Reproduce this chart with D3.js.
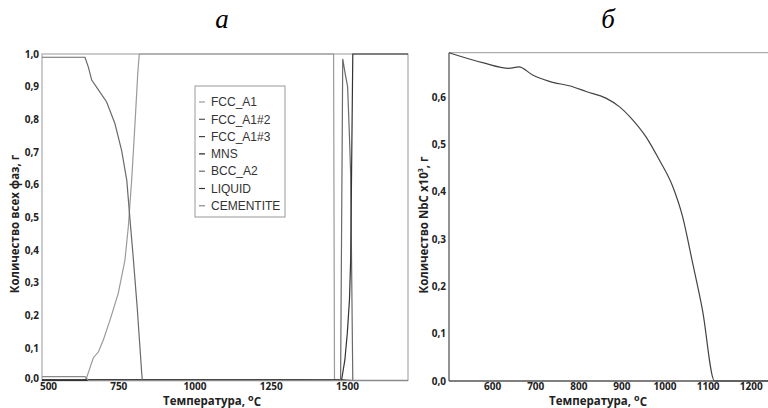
<!DOCTYPE html>
<html>
<head>
<meta charset="utf-8">
<script src="https://cdn.jsdelivr.net/npm/d3@7/dist/d3.min.js"></script>
<style>
  body { margin: 0; background: #fff; }
  svg { display: block; }
  .tick text { font-family: "Open Sans", sans-serif; font-weight: 700; font-size: 10px; fill: #222; }
  .title { font-family: "Open Sans", sans-serif; font-weight: 700; font-size: 11.5px; fill: #222; }
  .legend text { font-family: "Liberation Sans", Arial, sans-serif; font-size: 12px; fill: #333; }
</style>
</head>
<body>
<div class="mainbody"></div>
<script>
// ---------- данные: левый график (а), количество фаз ----------
var phaseNames = ["FCC_A1", "FCC_A1#2", "FCC_A1#3", "MNS", "BCC_A2", "LIQUID", "CEMENTITE"];
var phaseColors = ["#9a9a9a", "#555", "#444", "#222", "#6a6a6a", "#333", "#8a8a8a"];

// [температура, количество]
var fccA1 = [[500,0],[640,0],[646,0.008],[657,0.038],[668,0.069],[685,0.088],[701,0.124],[723,0.185],
  [750,0.267],[772,0.369],[783,0.471],[794,0.614],[805,0.788],[814,0.941],[819,1],[1456,1],[1459,0],[1700,0]];
var fccA1_2 = [[500,0.0007],[1116,0]];
var fccA1_3 = [[500,0.0004],[1350,0.0004],[1400,0]];
var mns = [[500,0.002],[1480,0.002],[1519,0]];
var bccA2 = [[500,0.99],[641,0.99],[652,0.96],[663,0.92],[685,0.89],[712,0.853],[739,0.787],[761,0.705],
  [778,0.613],[786,0.521],[799,0.378],[812,0.225],[827,0.022],[829,0],[1479,0],[1486,0.985],[1494,0.94],
  [1502,0.9],[1508,0.75],[1512,0.63],[1519,0],[1700,0]];
var liquid = [[500,0],[1482,0],[1493,0.063],[1501,0.145],[1508,0.246],[1512,0.369],[1519,1],[1700,1]];
var cementite = [[500,0.012],[641,0.012],[652,0],[1700,0]];
var phaseSeries = [fccA1, fccA1_2, fccA1_3, mns, bccA2, liquid, cementite];

var leftXTicks = [500, 750, 1000, 1250, 1500];
var leftYTicks = [0, 0.1, 0.2, 0.3, 0.4, 0.5, 0.6, 0.7, 0.8, 0.9, 1.0];

// ---------- данные: правый график (б), NbC ----------
var nbcT = [500, 578, 639, 662, 694, 731, 787, 818, 864, 895, 926, 957, 988, 1019, 1042, 1065, 1088, 1116, 1240];
var nbcV = [0.694, 0.673, 0.661, 0.664, 0.647, 0.634, 0.622, 0.612, 0.598, 0.580, 0.552, 0.516, 0.467, 0.411,
  0.347, 0.250, 0.150, 0, 0];
var rightXTicks = [600, 700, 800, 900, 1000, 1100, 1200];
var rightYTicks = [0, 0.1, 0.2, 0.3, 0.4, 0.5, 0.6];

var w = 768, h = 408;
var commaFmt = d => d3.format(".1f")(d).replace(".", ",");

var svg = d3.select(".mainbody").append("svg")
  .attr("width", w)
  .attr("height", h);

// подписи а / б
svg.append("text").text("а")
  .attr("x", 222).attr("y", 28)
  .attr("text-anchor", "middle")
  .style("font-family", "'Liberation Serif', serif")
  .style("font-style", "italic")
  .style("font-size", "27px");
svg.append("text").text("б")
  .attr("x", 608).attr("y", 28)
  .attr("text-anchor", "middle")
  .style("font-family", "'Liberation Serif', serif")
  .style("font-style", "italic")
  .style("font-size", "27px");

// ================= левый график =================
let xL = d3.scaleLinear().domain([500, 1700]).range([42, 408]);
let yL = d3.scaleLinear().domain([0, 1]).range([380.5, 54]);

let gL = svg.append("g");

gL.append("g")
  .attr("transform", "translate(0," + yL(0) + ")")
  .call(d3.axisBottom(xL).tickValues(leftXTicks).tickSize(0).tickPadding(2).tickFormat(d3.format("d")))
  .call(g => g.select(".domain").remove())
  // первая подпись сдвинута вправо, как в оригинале
  .call(g => g.selectAll(".tick text").filter(d => d === 500).attr("dx", 6));

gL.append("g")
  .attr("transform", "translate(" + xL(500) + ",0)")
  .call(d3.axisLeft(yL).tickValues(leftYTicks).tickSize(0).tickPadding(3).tickFormat(commaFmt))
  .call(g => g.select(".domain").remove())
  .call(g => g.selectAll(".tick text").filter(d => d === 0).attr("dy", "0.1em"));

// рамка
gL.append("rect")
  .attr("x", xL(500)).attr("y", yL(1))
  .attr("width", xL(1700) - xL(500)).attr("height", yL(0) - yL(1))
  .attr("fill", "none").attr("stroke", "#999").attr("stroke-width", 1);
gL.append("line")
  .attr("x1", xL(500)).attr("x2", xL(1700))
  .attr("y1", yL(0)).attr("y2", yL(0))
  .attr("stroke", "#888").attr("stroke-width", 1.6);

let lineL = d3.line().x(d => xL(d[0])).y(d => yL(d[1]));

gL.selectAll("path.phase")
  .data(phaseSeries)
  .enter()
  .append("path")
  .attr("class", "phase")
  .attr("d", lineL)
  .attr("fill", "none")
  .attr("stroke", (d, i) => phaseColors[i])
  .attr("stroke-width", 1.2);

// легенда
let leg = gL.append("g").attr("class", "legend");
leg.append("rect")
  .attr("x", 195).attr("y", 86)
  .attr("width", 90).attr("height", 131)
  .attr("fill", "#fff").attr("stroke", "#999");
let legItems = leg.selectAll("g.item")
  .data(phaseNames)
  .enter()
  .append("g")
  .attr("class", "item")
  .attr("transform", (d, i) => "translate(0," + (102 + i * 17.3) + ")");
legItems.append("line")
  .attr("x1", 199).attr("x2", 205)
  .attr("stroke", (d, i) => phaseColors[i]).attr("stroke-width", 1.2);
legItems.append("text")
  .attr("x", 211).attr("dy", "0.35em")
  .text(d => d);

// подписи осей
let tL = gL.append("text").attr("class", "title")
  .attr("x", 212).attr("y", 405)
  .attr("text-anchor", "middle");
tL.append("tspan").text("Температура, ");
tL.append("tspan").text("o").attr("dy", -4).style("font-size", "9px");
tL.append("tspan").text("C").attr("dy", 5);

gL.append("text").attr("class", "title")
  .attr("transform", "translate(15,224) rotate(-90)")
  .attr("dy", "0.35em")
  .attr("text-anchor", "middle")
  .text("Количество всех фаз, г");

// ================= правый график =================
let xR = d3.scaleLinear().domain([500, 1240]).range([449, 768]);
let yR = d3.scaleLinear().domain([0, 0.694]).range([381, 52.7]);

let gR = svg.append("g");

gR.append("g")
  .attr("transform", "translate(0," + yR(0) + ")")
  .call(d3.axisBottom(xR).tickValues(rightXTicks).tickSize(0).tickPadding(2).tickFormat(d3.format("d")))
  .call(g => g.select(".domain").remove());

gR.append("g")
  .attr("transform", "translate(" + xR(500) + ",0)")
  .call(d3.axisLeft(yR).tickValues(rightYTicks).tickSize(0).tickPadding(3).tickFormat(commaFmt))
  .call(g => g.select(".domain").remove());

// верхняя линия рамки
gR.append("line")
  .attr("x1", xR(500)).attr("x2", w)
  .attr("y1", yR(0.694)).attr("y2", yR(0.694))
  .attr("stroke", "#999").attr("stroke-width", 1);
// оси
gR.append("line")
  .attr("x1", xR(500)).attr("x2", xR(500))
  .attr("y1", yR(0.694)).attr("y2", yR(0))
  .attr("stroke", "#777").attr("stroke-width", 1.6);
gR.append("line")
  .attr("x1", xR(500)).attr("x2", w)
  .attr("y1", yR(0)).attr("y2", yR(0))
  .attr("stroke", "#555").attr("stroke-width", 1.6);

let nbcData = nbcT.map((t, i) => [t, nbcV[i]]);
gR.append("path")
  .datum(nbcData)
  .attr("d", d3.line().x(d => xR(d[0])).y(d => yR(d[1])).curve(d3.curveMonotoneX))
  .attr("fill", "none")
  .attr("stroke", "#444")
  .attr("stroke-width", 1.2);

let tR = gR.append("text").attr("class", "title")
  .attr("x", 598).attr("y", 405)
  .attr("text-anchor", "middle");
tR.append("tspan").text("Температура, ");
tR.append("tspan").text("o").attr("dy", -4).style("font-size", "9px");
tR.append("tspan").text("C").attr("dy", 5);

let yTitleR = gR.append("text").attr("class", "title")
  .attr("transform", "translate(424,225) rotate(-90)")
  .attr("dy", "0.35em")
  .attr("text-anchor", "middle");
yTitleR.append("tspan").text("Количество NbC x10");
yTitleR.append("tspan").text("3").attr("dy", -5).style("font-size", "7px");
yTitleR.append("tspan").text(", г").attr("dy", 5);
</script>
</body>
</html>
